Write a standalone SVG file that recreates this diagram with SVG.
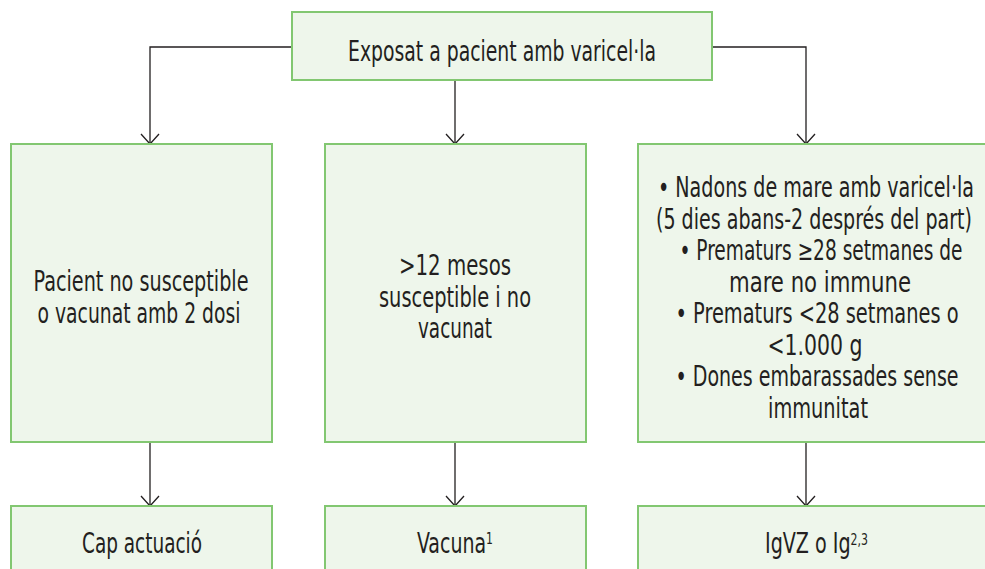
<svg xmlns="http://www.w3.org/2000/svg" width="985" height="569" viewBox="0 0 985 569">
<style>
.box{fill:#eef6eb;stroke:#82c771;stroke-width:2}
.t{font-family:"Liberation Sans Narrow","DejaVu Sans Condensed","Open Sans",sans-serif;font-stretch:condensed;font-size:28px;fill:#231f20;text-anchor:middle}
.sup{font-size:16px}
.c{fill:none;stroke:#231f20;stroke-width:1.3}
</style>
<defs>
<marker id="arr" markerWidth="20" markerHeight="14" refX="10" refY="11" markerUnits="userSpaceOnUse" orient="0" viewBox="0 0 20 14">
<path d="M1,1 L10,11 L19,1" fill="none" stroke="#231f20" stroke-width="1.3"/>
</marker>
</defs>
<rect width="985" height="569" fill="#ffffff"/>
<g id="connectors">
<path class="c" d="M292,47 H150 V144" marker-end="url(#arr)"/>
<path class="c" d="M712,47 H806 V144" marker-end="url(#arr)"/>
<path class="c" d="M455,80 V144" marker-end="url(#arr)"/>
<path class="c" d="M150,442 V506" marker-end="url(#arr)"/>
<path class="c" d="M455,442 V506" marker-end="url(#arr)"/>
<path class="c" d="M806,442 V506" marker-end="url(#arr)"/>
</g>
<g id="n-top">
<rect class="box" x="292" y="12" width="420" height="68"/>
<text class="t" x="502" y="61" textLength="308" lengthAdjust="spacingAndGlyphs">Exposat a pacient amb varicel·la</text>
</g>
<g id="n-left">
<rect class="box" x="11" y="144" width="261" height="298"/>
<text class="t" x="141" y="291" textLength="215" lengthAdjust="spacingAndGlyphs">Pacient no susceptible</text>
<text class="t" x="139" y="323" textLength="203" lengthAdjust="spacingAndGlyphs">o vacunat amb 2 dosi</text>
</g>
<g id="n-mid">
<rect class="box" x="325" y="144" width="261" height="298"/>
<text class="t" x="455" y="275" textLength="112" lengthAdjust="spacingAndGlyphs">&gt;12 mesos</text>
<text class="t" x="455" y="307" textLength="152" lengthAdjust="spacingAndGlyphs">susceptible i no</text>
<text class="t" x="455" y="338" textLength="74" lengthAdjust="spacingAndGlyphs">vacunat</text>
</g>
<g id="n-right">
<rect class="box" x="638" y="144" width="360" height="298"/>
<text class="t" x="816" y="197" textLength="316" lengthAdjust="spacingAndGlyphs">• Nadons de mare amb varicel·la</text>
<text class="t" x="814" y="228.5" textLength="316" lengthAdjust="spacingAndGlyphs">(5 dies abans-2 després del part)</text>
<text class="t" x="821" y="260" textLength="283" lengthAdjust="spacingAndGlyphs">• Prematurs ≥28 setmanes de</text>
<text class="t" x="820" y="291.5" textLength="182" lengthAdjust="spacingAndGlyphs">mare no immune</text>
<text class="t" x="817" y="323" textLength="283" lengthAdjust="spacingAndGlyphs">• Prematurs &lt;28 setmanes o</text>
<text class="t" x="815" y="354.5" textLength="95" lengthAdjust="spacingAndGlyphs">&lt;1.000 g</text>
<text class="t" x="817" y="386" textLength="283" lengthAdjust="spacingAndGlyphs">• Dones embarassades sense</text>
<text class="t" x="818" y="417.5" textLength="100" lengthAdjust="spacingAndGlyphs">immunitat</text>
</g>
<g id="n-b1">
<rect class="box" x="11" y="506" width="261" height="80"/>
<text class="t" x="142" y="553" textLength="120" lengthAdjust="spacingAndGlyphs">Cap actuació</text>
</g>
<g id="n-b2">
<rect class="box" x="325" y="506" width="261" height="80"/>
<text class="t" x="455" y="553" textLength="76" lengthAdjust="spacingAndGlyphs">Vacuna<tspan class="sup" dy="-9">1</tspan></text>
</g>
<g id="n-b3">
<rect class="box" x="638" y="506" width="360" height="80"/>
<text class="t" x="816.5" y="553" textLength="103" lengthAdjust="spacingAndGlyphs">IgVZ o Ig<tspan class="sup" dy="-8">2,3</tspan></text>
</g>
</svg>
